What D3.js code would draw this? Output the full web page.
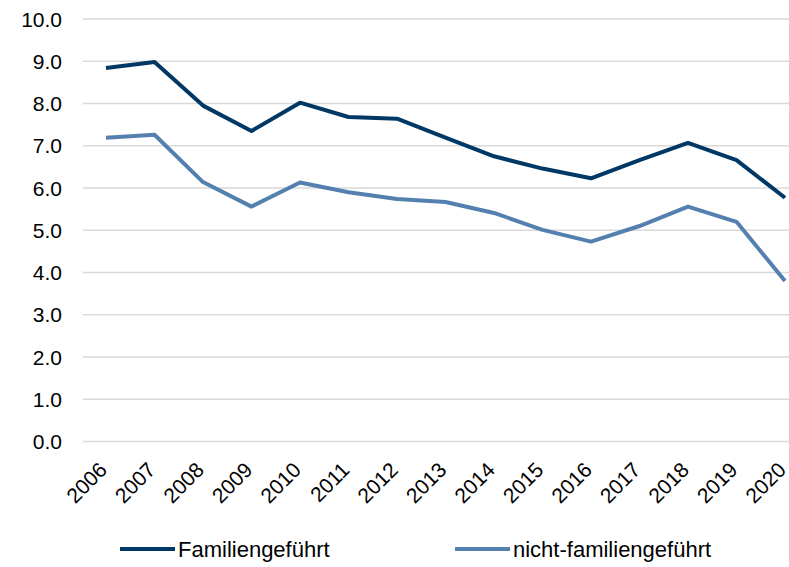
<!DOCTYPE html>
<html>
<head>
<meta charset="utf-8">
<script src="https://cdn.jsdelivr.net/npm/d3@7"></script>
<style>
  body { margin: 0; background: #fff; }
  text { font-family: "Liberation Sans", Arial, sans-serif; fill: #000; }
</style>
</head>
<body>
<div id="chart"></div>
<script>
// data
const years = ["2006", "2007", "2008", "2009", "2010", "2011", "2012", "2013", "2014", "2015", "2016", "2017", "2018", "2019", "2020"];
const familie = [8.84, 8.98, 7.95, 7.35, 8.02, 7.68, 7.64, 7.19, 6.75, 6.46, 6.23, 6.66, 7.07, 6.66, 5.77];
const nichtFamilie = [7.19, 7.26, 6.14, 5.56, 6.13, 5.90, 5.74, 5.67, 5.41, 5.01, 4.73, 5.10, 5.56, 5.20, 3.80];
const yTicks = [0, 1, 2, 3, 4, 5, 6, 7, 8, 9, 10];

const series = [
  {name: "Familiengeführt", values: familie, color: "#003865"},
  {name: "nicht-familiengeführt", values: nichtFamilie, color: "#5480b0"}
];

let width = 789, height = 567;

const svg = d3.select("#chart")
              .append("svg")
                .attr("width", width)
                .attr("height", height);

let x = d3.scalePoint()
            .domain(years)
            .range([106, 785]);

let y = d3.scaleLinear()
            .domain([0, 10])
            .range([441.5, 19]);

// gridlines
svg.append("g")
    .selectAll("line")
    .data(yTicks)
    .enter()
    .append("line")
      .attr("x1", 83)
      .attr("x2", 789)
      .attr("y1", function(d) { return y(d); })
      .attr("y2", function(d) { return y(d); })
      .attr("stroke", "#d9d9d9")
      .attr("stroke-width", 1.5);

// y axis labels
svg.append("g")
    .selectAll("text")
    .data(yTicks)
    .enter()
    .append("text")
      .attr("x", 62)
      .attr("y", function(d) { return y(d); })
      .attr("dy", "0.36em")
      .attr("text-anchor", "end")
      .style("font-size", "21px")
      .text(function(d) { return d3.format(".1f")(d); });

// x axis labels
svg.append("g")
    .selectAll("text")
    .data(years)
    .enter()
    .append("text")
      .attr("transform", function(d) { return "translate(" + (x(d) - 3) + ",466)rotate(-45)"; })
      .attr("text-anchor", "end")
      .attr("dy", "0.36em")
      .style("font-size", "21px")
      .text(function(d) { return d; });

// lines
const line = d3.line()
                .x(function(d, i) { return x(years[i]); })
                .y(function(d) { return y(d); });

svg.selectAll("path.series")
    .data(series)
    .enter()
    .append("path")
      .attr("class", "series")
      .attr("d", function(d) { return line(d.values); })
      .attr("fill", "none")
      .attr("stroke", function(d) { return d.color; })
      .attr("stroke-width", 4)
      .attr("stroke-linejoin", "round");

// legend
const legend = svg.selectAll("g.legend")
                  .data(series)
                  .enter()
                  .append("g")
                    .attr("class", "legend")
                    .attr("transform", function(d, i) { return "translate(" + (i == 0 ? 120 : 455) + ",549)"; });

legend.append("line")
      .attr("x1", 0)
      .attr("x2", 55)
      .attr("stroke", function(d) { return d.color; })
      .attr("stroke-width", 4);

legend.append("text")
      .attr("x", 58)
      .attr("dy", "0.36em")
      .style("font-size", "22px")
      .text(function(d) { return d.name; });
</script>
</body>
</html>
